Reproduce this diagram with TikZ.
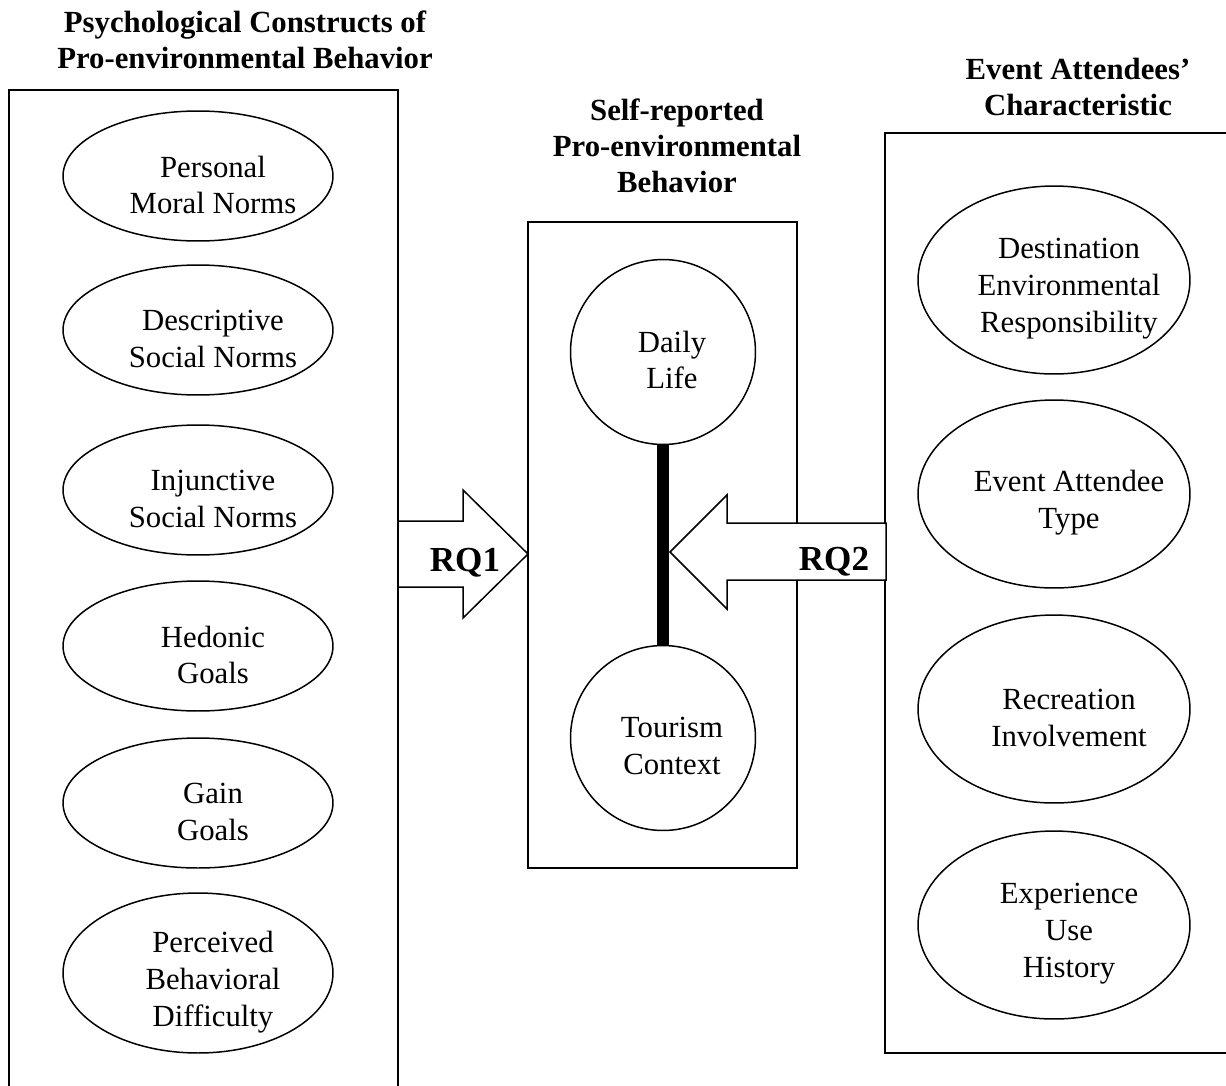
\documentclass[tikz,border=0pt]{standalone}
\usepackage{fontspec}
\setmainfont{Liberation Serif}
\usetikzlibrary{shapes.geometric}

\newcommand{\bodyfont}{\fontsize{17.5}{21}\selectfont}
\newcommand{\headfont}{\fontsize{17.5}{20.5}\selectfont\bfseries}

\begin{document}
\begin{tikzpicture}[x=0.02cm, y=-0.02cm,
  frame/.style={draw, rectangle, line width=1.1pt, inner sep=0pt},
  oval/.style={draw, ellipse, line width=0.85pt, inner sep=0pt,
               minimum width=5.4cm, minimum height=2.6cm},
  bigoval/.style={oval, minimum width=5.44cm, minimum height=3.76cm},
  ring/.style={draw, circle, line width=0.85pt, inner sep=0pt, minimum size=3.7cm},
  intext/.style={align=center, font=\bodyfont, xshift=0.3cm, yshift=-0.18cm},
  ringtext/.style={align=center, font=\bodyfont, xshift=0.18cm, yshift=-0.16cm},
  heading/.style={align=center, font=\headfont},
  block/.style={draw, fill=white, line width=0.85pt, line join=miter},
  rqlabel/.style={font=\fontsize{20}{24}\selectfont\bfseries, inner sep=0pt}
]
\useasboundingbox (0,0) rectangle (1226,1085);

% column frames
\node[frame, minimum width=7.78cm, minimum height=20.4cm] (leftbox) at (203.5,600) {};
\node[frame, minimum width=5.38cm, minimum height=12.92cm] (midbox) at (662.5,545) {};
\node[frame, minimum width=7.3cm, minimum height=18.4cm] (rightbox) at (1067,593) {};

% headings
\node[heading] (lefttitle) at (245,40) {Psychological Constructs of\\Pro-environmental Behavior};
\node[heading] (midtitle) at (677,146) {Self-reported\\Pro-environmental\\Behavior};
\node[heading] (righttitle) at (1078,87) {Event Attendees’\\Characteristic};

% psychological constructs
\node[oval, label={[intext]center:Personal\\Moral Norms}] (pmn) at (198,176) {};
\node[oval, label={[intext]center:Descriptive\\Social Norms}] (dsn) at (198,330) {};
\node[oval, label={[intext]center:Injunctive\\Social Norms}] (isn) at (198,490) {};
\node[oval, label={[intext]center:Hedonic\\Goals}] (hg) at (198,646) {};
\node[oval, label={[intext]center:Gain\\Goals}] (gg) at (198,803) {};
\node[oval, minimum height=3.2cm, label={[intext]center:Perceived\\Behavioral\\Difficulty}] (pbd) at (198,973) {};

% attendee characteristics
\node[bigoval, label={[intext]center:Destination\\Environmental\\Responsibility}] (der) at (1054,280) {};
\node[bigoval, label={[intext]center:Event Attendee\\Type}] (eat) at (1054,494) {};
\node[bigoval, label={[intext]center:Recreation\\Involvement}] (ri) at (1054,709) {};
\node[bigoval, label={[intext]center:Experience\\Use\\History}] (euh) at (1054,925) {};

% behaviour contexts
\node[ring, label={[ringtext]center:Daily\\Life}] (daily) at (663,352) {};
\node[ring, label={[ringtext]center:Tourism\\Context}] (tourism) at (663,738) {};
\draw[line width=0.24cm] (daily.south) -- (tourism.north);

% research question arrows
\draw[block] (398,521) -- (463,521) -- (463,490) -- (528,554)
  -- (463,618) -- (463,587) -- (398,587) -- cycle;
\node[rqlabel] (rq1) at (465,563) {RQ1};

\draw[block] (886,523) -- (727,523) -- (727,495) -- (670,552)
  -- (727,609) -- (727,580) -- (886,580) -- cycle;
\node[rqlabel] (rq2) at (834,562) {RQ2};
\end{tikzpicture}
\end{document}
